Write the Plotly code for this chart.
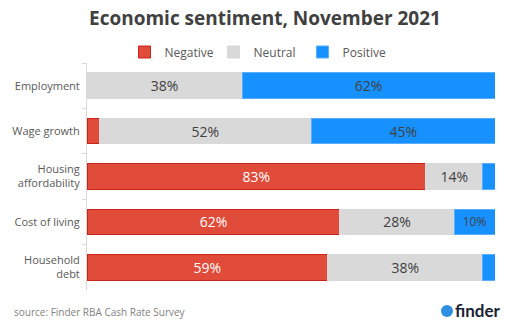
import plotly.graph_objects as go

categories = ["Employment", "Wage growth", "Housing<br>affordability", "Cost of living", "Household<br>debt"]
negative = [0, 3, 83, 62, 59]
neutral = [38, 52, 14, 28, 38]
positive = [62, 45, 3, 10, 3]

series = [
    ("Negative", negative, "#E04B3A", "#C8261A", "white"),
    ("Neutral", neutral, "#D9D9D9", "#D9D9D9", "#404040"),
    ("Positive", positive, "#1791FF", "#5AAEFF", "#404040"),
]

FONT = "Open Sans"
W, H = 512, 326
L, R, T, B = 87, 17, 63, 36
PW, PH = W - L - R, H - T - B

def px(x):
    return (x - L) / PW

def py(y):
    return (H - B - y) / PH

fig = go.Figure()
for name, vals, col, line, tcol in series:
    txt = [f"{v}%" if v >= 10 else "" for v in vals]
    sizes = [12 if v < 12 else 14 for v in vals]
    fig.add_trace(go.Bar(
        name=name, y=categories, x=vals, orientation="h",
        marker=dict(color=col, line=dict(color=line, width=1)),
        text=txt, textposition="inside", insidetextanchor="middle",
        textfont=dict(color=tcol, size=sizes, family=FONT),
        constraintext="none", hoverinfo="skip",
    ))

fig.update_layout(
    barmode="stack", bargap=0.44,
    width=W, height=H,
    margin=dict(l=L, r=R, t=T, b=B),
    paper_bgcolor="white", plot_bgcolor="white",
    font=dict(family=FONT, color="#595959"),
    title=dict(text="<b>Economic sentiment, November 2021</b>", x=265 / W, xanchor="center",
               y=1 - 18 / H, yanchor="middle", font=dict(size=19, color="#404040", family=FONT)),
    legend=dict(orientation="h", x=px(258), xanchor="center", y=py(52), yanchor="middle",
                font=dict(size=12, color="#595959"), traceorder="normal",
                itemwidth=30, entrywidth=44, entrywidthmode="pixels"),
    showlegend=True,
)
fig.update_xaxes(range=[0, 100], visible=False, fixedrange=True)
fig.update_yaxes(autorange="reversed", showline=True, linecolor="#D9D9D9", linewidth=1,
                 ticks="outside", tickson="boundaries", ticklen=4, tickcolor="#D9D9D9",
                 tickfont=dict(size=11, color="#595959"), showgrid=False, ticklabelstandoff=4)

fig.add_annotation(text="source: Finder RBA Cash Rate Survey", xref="paper", yref="paper",
                   x=px(12), xanchor="left", y=py(312), yanchor="middle", showarrow=False,
                   font=dict(size=10, color="#7F7F7F"))
fig.add_shape(type="circle", xref="paper", yref="paper",
              x0=px(441), x1=px(453), y0=py(305), y1=py(317),
              fillcolor="#2F8FE0", line=dict(width=0))
fig.add_annotation(text="<b>finder</b>", xref="paper", yref="paper",
                   x=px(453), xanchor="left", y=py(310), yanchor="middle",
                   showarrow=False, font=dict(size=17, color="#1B2233", family="Lato"))

fig.write_html("out.html")
